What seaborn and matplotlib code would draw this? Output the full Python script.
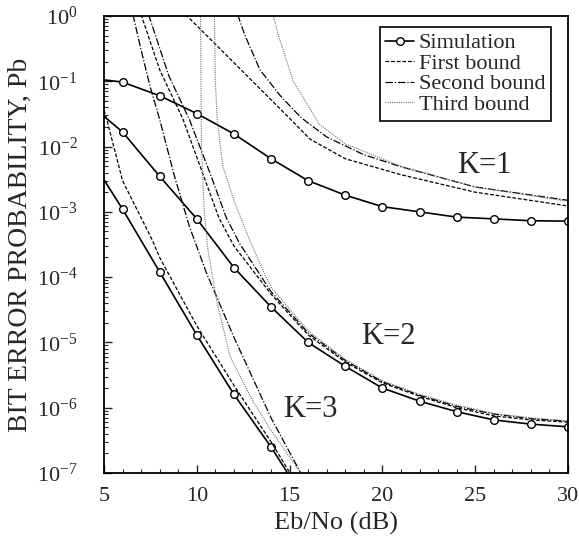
import numpy as np
import pandas as pd
import matplotlib
matplotlib.use("Agg")
import matplotlib.pyplot as plt
import seaborn as sns

# Simulation points (Eb/No in dB, bit error probability)
sim_x = [5, 6, 8, 10, 12, 14, 16, 18, 20, 22, 24, 26, 28, 30]
sim_k1 = [0.105, 0.097, 0.06, 0.032, 0.0156, 0.0065, 0.003, 0.0018, 0.0012,
          0.001, 0.00083, 0.00078, 0.00073, 0.00072]
sim_k2 = [0.029, 0.0167, 0.0035, 7.8e-4, 1.4e-4, 3.5e-5, 1.0e-5, 4.3e-6,
          2.0e-6, 1.26e-6, 8.7e-7, 6.5e-7, 5.6e-7, 5.1e-7]
sim_k3_x = [5, 6, 8, 10, 12, 14, 16]
sim_k3 = [3.1e-3, 1.1e-3, 1.2e-4, 1.3e-5, 1.6e-6, 2.5e-7, 3.2e-8]

# K = 1 bounds
b1_k1_x = [9.4, 11, 13, 15, 16.1, 18, 21, 25, 30]
b1_k1 = [1.05, 0.37, 0.1, 0.027, 0.013, 6.5e-3, 3.7e-3, 2.0e-3, 1.23e-3]
b2_k1_x = [12.2, 12.6, 13.4, 14.5, 15.6, 17, 19, 21, 25, 30]
b2_k1 = [1.05, 0.5, 0.15, 0.06, 0.028, 0.014, 7.5e-3, 4.9e-3, 2.4e-3, 1.5e-3]
b3_k1_x = [14.1, 14.4, 15.2, 16.6, 18, 21, 25, 30]
b3_k1 = [1.05, 0.5, 0.1, 0.022, 0.011, 5.0e-3, 2.4e-3, 1.45e-3]

# K = 2 bounds
b1_k2_x = [7.0, 8.0, 9.26, 10.3, 11.2, 12, 14, 16, 18, 20, 22, 24, 26, 28, 30]
b1_k2 = [1.05, 0.15, 0.026, 4e-3, 8e-4, 3e-4, 5.5e-5, 1.3e-5, 5e-6, 2.4e-6,
         1.5e-6, 1.0e-6, 7.5e-7, 6.5e-7, 6.0e-7]
b2_k2_x = [7.4, 8.5, 9.6, 10.7, 11.6, 12.3, 14, 16, 18, 20, 22, 24, 26, 28, 30]
b2_k2 = [1.05, 0.12, 0.026, 4e-3, 8e-4, 3.3e-4, 6e-5, 1.4e-5, 5.3e-6, 2.5e-6,
         1.55e-6, 1.05e-6, 8e-7, 6.8e-7, 6.2e-7]
b3_k2_x = [10.95, 11.0, 11.1, 11.4, 12.0, 12.8, 13.5, 14, 16, 18, 20, 22, 24,
           26, 28, 30]
b3_k2 = [1.05, 0.1, 0.026, 5e-3, 1.5e-3, 4e-4, 1.4e-4, 7e-5, 1.5e-5, 5.5e-6,
         2.6e-6, 1.6e-6, 1.1e-6, 8.2e-7, 7e-7, 6.3e-7]

# K = 3 bounds
b1_k3_x = [5, 5.15, 6, 7.6, 8, 10, 12, 14, 16]
b1_k3 = [0.036, 0.026, 3e-3, 3.7e-4, 2e-4, 1.8e-5, 2.2e-6, 3e-7, 3.5e-8]
b2_k3_x = [6.56, 7.0, 7.5, 8.0, 8.8, 9.6, 10.5, 12, 14, 15.6]
b2_k3 = [1.05, 0.3, 0.08, 0.026, 3.5e-3, 6e-4, 1.2e-4, 1.2e-5, 7e-7, 1e-7]
b3_k3_x = [10.2, 10.25, 10.4, 10.6, 11.1, 11.8, 13, 14, 15.6]
b3_k3 = [1.05, 0.01, 1e-3, 2.6e-4, 4e-5, 6e-6, 1.3e-6, 4.5e-7, 1e-7]

# curve labels
k_labels = ["K=1", "K=2", "K=3"]
k_label_x = [25.5, 20.3, 16.1]
k_label_y = [5.2e-3, 1.25e-5, 9.3e-7]

sns.set_theme(style="ticks")
plt.rcParams["font.family"] = ["Liberation Serif", "DejaVu Serif"]
plt.rcParams["mathtext.fontset"] = "stix"

fig = plt.figure(figsize=(5.79, 5.5), dpi=100)
ax = fig.add_axes([0.1796, 0.14, 0.8014, 0.831])

sim_kw = dict(color="black", linewidth=1.2, marker="o", markersize=5.5,
              markerfacecolor="white", markeredgecolor="black", markeredgewidth=1)
first_kw = dict(color="black", linewidth=0.9, linestyle=(0, (3, 1.5)))
second_kw = dict(color="black", linewidth=0.9, linestyle=(0, (6, 1.5, 1, 1.5)))
third_kw = dict(color="0.45", linewidth=0.8, linestyle=(0, (1, 1)))

sns.lineplot(x=sim_x, y=sim_k1, ax=ax, label="Simulation",
             markevery=slice(1, None), **sim_kw)
sns.lineplot(x=b1_k1_x, y=b1_k1, ax=ax, label="First bound", **first_kw)
sns.lineplot(x=b2_k1_x, y=b2_k1, ax=ax, label="Second bound", **second_kw)
sns.lineplot(x=b3_k1_x, y=b3_k1, ax=ax, label="Third bound", **third_kw)

sns.lineplot(x=sim_x, y=sim_k2, ax=ax, markevery=slice(1, None), **sim_kw)
sns.lineplot(x=b1_k2_x, y=b1_k2, ax=ax, **first_kw)
sns.lineplot(x=b2_k2_x, y=b2_k2, ax=ax, **second_kw)
sns.lineplot(x=b3_k2_x, y=b3_k2, ax=ax, **third_kw)

sns.lineplot(x=sim_k3_x, y=sim_k3, ax=ax, markevery=slice(1, None), **sim_kw)
sns.lineplot(x=b1_k3_x, y=b1_k3, ax=ax, **first_kw)
sns.lineplot(x=b2_k3_x, y=b2_k3, ax=ax, **second_kw)
sns.lineplot(x=b3_k3_x, y=b3_k3, ax=ax, **third_kw)

ax.set_yscale("log")
ax.set_xlim(5, 30)
ax.set_ylim(1e-7, 1)
ax.set_xticks([5, 10, 15, 20, 25, 30])
ax.set_xticks(np.arange(5, 31, 1), minor=True)
ax.set_yticks([10.0 ** e for e in range(-7, 1)])
ax.tick_params(which="both", direction="in", top=False, right=False,
               labelsize=16)
ax.tick_params(which="major", length=6, width=1)
ax.tick_params(which="minor", length=3, width=0.8)
ax.tick_params(axis="x", pad=10)
ax.tick_params(axis="y", pad=19)
for s in ax.spines.values():
    s.set_linewidth(1.3)
    s.set_color("black")

ax.set_xlabel("Eb/No (dB)", fontsize=19, labelpad=4)
ax.set_ylabel("BIT ERROR PROBABILITY, Pb", fontsize=20, labelpad=3)

for lab, lx, ly in zip(k_labels, k_label_x, k_label_y):
    ax.text(lx, ly, lab, fontsize=22, ha="center", va="center")

leg = ax.legend(loc="upper right", bbox_to_anchor=(0.972, 0.985), fontsize=16,
                frameon=True, fancybox=False, handlelength=1.3,
                handletextpad=0.2, borderpad=0.25, labelspacing=0.0,
                borderaxespad=0.2)
leg.get_frame().set_edgecolor("black")
leg.get_frame().set_linewidth(1.2)
leg.get_frame().set_alpha(1)

fig.savefig("out.png", dpi=100)
